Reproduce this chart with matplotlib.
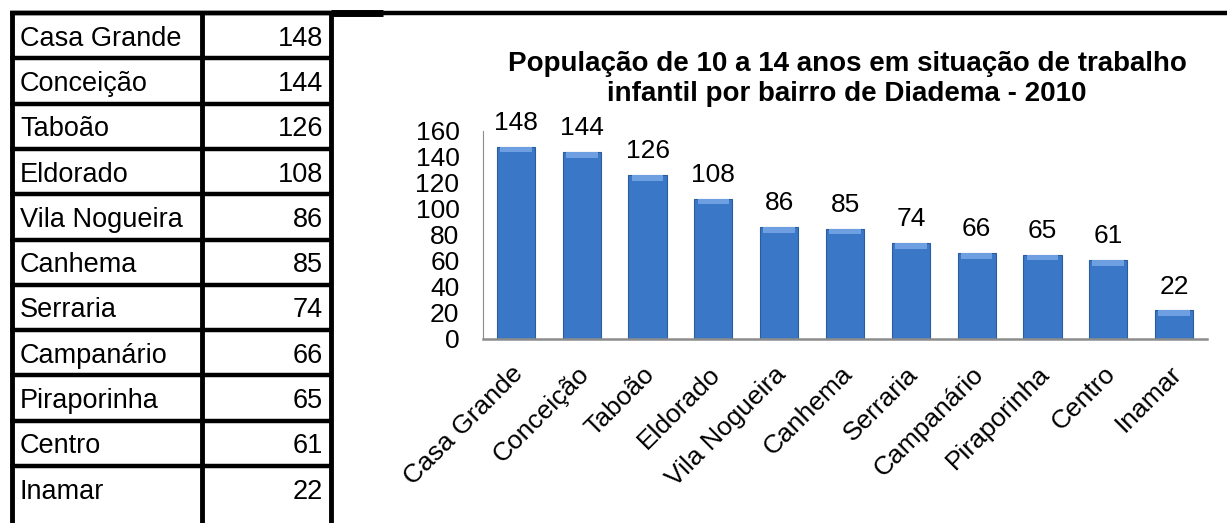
import numpy as np
import matplotlib.pyplot as plt
from matplotlib.transforms import ScaledTranslation

plt.rcParams['font.family'] = ['Liberation Sans', 'DejaVu Sans']

bairros = ["Casa Grande", "Conceição", "Taboão", "Eldorado", "Vila Nogueira",
           "Canhema", "Serraria", "Campanário", "Piraporinha", "Centro", "Inamar"]
valores = [148, 144, 126, 108, 86, 85, 74, 66, 65, 61, 22]
titulo = "População de 10 a 14 anos em situação de trabalho\ninfantil por bairro de Diadema - 2010"
yticks = [0, 20, 40, 60, 80, 100, 120, 140, 160]

W, H = 1227, 523
fig = plt.figure(figsize=(W / 100, H / 100), dpi=100)

# --- tabela a esquerda (coordenadas em pixels) ---
tab = fig.add_axes([0, 0, 1, 1])
tab.set_xlim(0, W)
tab.set_ylim(H, 0)
tab.axis("off")

topo = 13
alt = 45.3
for i in range(len(bairros)):
    y0 = topo + i * alt
    tab.plot([10, 333], [y0, y0], color="black", lw=3.2, solid_capstyle="butt")
    tab.text(20, y0 + alt / 2 + 3, bairros[i], fontsize=19.5, va="center", ha="left")
    tab.text(323, y0 + alt / 2 + 3, str(valores[i]), fontsize=19.5, va="center", ha="right")
for x in [12, 202, 331]:
    tab.plot([x, x], [topo - 2, H], color="black", lw=3.5, solid_capstyle="butt")
# linha superior atravessando a figura
tab.plot([10, W], [topo, topo], color="black", lw=3.2, solid_capstyle="butt")
tab.plot([331, 383], [topo, topo], color="black", lw=5, solid_capstyle="butt")

# --- grafico de barras ---
ax = fig.add_axes([483 / W, 1 - 339 / H, (1207 - 483) / W, (339 - 131) / H])
x = np.arange(len(bairros))
ax.bar(x, valores, width=0.58, color="#3A77C7", edgecolor="#2B5C9C", linewidth=0.8, zorder=2)
# brilho no topo das barras
ax.bar(x, [4.5] * len(valores), bottom=np.array(valores) - 4.5, width=0.48,
       color="#6E9FE0", linewidth=0, zorder=3)
for xi, v in zip(x, valores):
    ax.text(xi, v + 9, str(v), ha="center", va="bottom", fontsize=19)

ax.set_xlim(-0.5, len(bairros) - 0.5)
ax.set_ylim(0, 160)
ax.set_yticks(yticks)
ax.set_yticklabels([str(t) for t in yticks], fontsize=19)
ax.tick_params(axis="y", length=0, pad=17)
ax.tick_params(axis="x", length=0, pad=15)
ax.set_xticks(x)
ax.set_xticklabels(bairros, rotation=45, ha="right", va="top", rotation_mode="anchor", fontsize=19)
desloc = ScaledTranslation(-5 / 100, -2 / 100, fig.dpi_scale_trans)
for lab in ax.get_xticklabels():
    lab.set_transform(lab.get_transform() + desloc)
ax.spines["top"].set_visible(False)
ax.spines["right"].set_visible(False)
ax.spines["left"].set_color("#8C8C8C")
ax.spines["bottom"].set_color("#8C8C8C")
ax.spines["bottom"].set_linewidth(1.8)

fig.text(847 / W, 1 - 79 / H, titulo, ha="center", va="center", fontsize=20,
         fontweight="bold", linespacing=1.2)

fig.savefig("out.png", dpi=100)
